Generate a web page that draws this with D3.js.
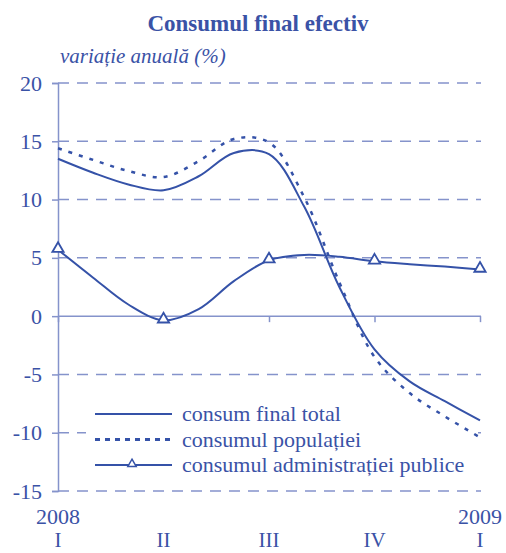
<!DOCTYPE html>
<html>
<head>
<meta charset="utf-8">
<script src="https://cdn.jsdelivr.net/npm/d3@7"></script>
<style>
  body { margin: 0; background: #fff; }
  text { font-family: "Liberation Serif", "Times New Roman", serif; fill: #3a52a6; }
</style>
</head>
<body>
<div id="chart"></div>
<script>
(function() {
  var width = 506;
  var height = 553;

  // monthly steps, 0 = I 2008 ... 12 = I 2009
  var months = [0, 1, 2, 3, 4, 5, 6, 7, 8, 9, 10, 11, 12];
  var consumTotal = [13.5, 12.3, 11.3, 10.8, 12.0, 14.0, 13.9, 9.4, 2.5, -2.85, -5.6, -7.3, -8.95];
  var consumPopulatie = [14.4, 13.4, 12.45, 11.93, 13.3, 15.2, 14.9, 10.2, 2.9, -3.5, -6.6, -8.6, -10.4];
  var consumAdmin = [5.7, 3.3, 1.0, -0.35, 0.6, 3.0, 4.8, 5.25, 5.1, 4.7, 4.45, 4.25, 4.0];

  var quarterIdx = [0, 3, 6, 9, 12];
  var quarterLabels = ['I', 'II', 'III', 'IV', 'I'];
  var yearIdx = [0, 12];
  var yearLabels = ['2008', '2009'];
  var yTicks = [-15, -10, -5, 0, 5, 10, 15, 20];
  var legendLabels = ['consum final total', 'consumul populației', 'consumul administrației publice'];

  var blue = '#3552a8';
  var gridBlue = '#8593cb';

  var svg = d3.select('#chart')
    .append('svg')
    .attr('width', width)
    .attr('height', height);

  var x = d3.scaleLinear().domain([0, 12]).range([58, 480]);
  var y = d3.scaleLinear().domain([-15, 20]).range([491, 83]);

  // title
  svg.append('text')
    .attr('x', 258)
    .attr('y', 31)
    .attr('text-anchor', 'middle')
    .style('font-size', '23px')
    .style('font-weight', 'bold')
    .text('Consumul final efectiv');

  svg.append('text')
    .attr('x', 60)
    .attr('y', 63)
    .style('font-size', '21px')
    .style('font-style', 'italic')
    .text('variație anuală (%)');

  // grid lines (dashed, except zero)
  svg.selectAll('.grid')
    .data(yTicks.filter(function(d) { return d != 0; }))
    .enter()
    .append('line')
    .attr('class', 'grid')
    .attr('x1', 58)
    .attr('x2', 481)
    .attr('y1', function(d) { return y(d); })
    .attr('y2', function(d) { return y(d); })
    .attr('stroke', gridBlue)
    .attr('stroke-width', 1.5)
    .attr('stroke-dasharray', '11,8');

  // y axis
  var yAxis = svg.append('g')
    .attr('transform', 'translate(' + x(0) + ',0)')
    .call(d3.axisLeft(y).tickValues(yTicks).tickSize(6).tickPadding(10)
      .tickFormat(function(d) { return String(d); }));
  yAxis.attr('font-family', null);
  yAxis.select('.domain').attr('stroke', gridBlue).attr('stroke-width', 1.5);
  yAxis.selectAll('.tick line').attr('stroke', gridBlue).attr('stroke-width', 1.5);
  yAxis.selectAll('.tick text')
    .attr('fill', blue)
    .style('font-size', '22px');

  // x axis on zero line
  var xAxis = svg.append('g')
    .attr('transform', 'translate(0,' + y(0) + ')')
    .call(d3.axisBottom(x).tickValues(quarterIdx).tickSize(6).tickFormat(''));
  xAxis.select('.domain').attr('stroke', gridBlue).attr('stroke-width', 1.5).attr('d', 'M' + x(0) + ',0H' + (x(12) + 1));
  xAxis.selectAll('.tick line').attr('stroke', gridBlue).attr('stroke-width', 1.5);

  // category labels under the plot
  svg.selectAll('.year')
    .data(yearIdx)
    .enter()
    .append('text')
    .attr('class', 'year')
    .attr('x', function(d) { return x(d); })
    .attr('y', 524)
    .attr('text-anchor', 'middle')
    .style('font-size', '22px')
    .text(function(d, i) { return yearLabels[i]; });

  svg.selectAll('.quarter')
    .data(quarterIdx)
    .enter()
    .append('text')
    .attr('class', 'quarter')
    .attr('x', function(d) { return x(d); })
    .attr('y', 547)
    .attr('text-anchor', 'middle')
    .style('font-size', '21px')
    .text(function(d, i) { return quarterLabels[i]; });

  // legend background hides the -10 grid line
  svg.append('rect')
    .attr('x', 86)
    .attr('y', 400)
    .attr('width', 392)
    .attr('height', 78)
    .attr('fill', '#fff');

  var line = d3.line()
    .x(function(d) { return x(d[0]); })
    .y(function(d) { return y(d[1]); })
    .curve(d3.curveCatmullRom.alpha(0.5));

  function pairs(vals) {
    return months.map(function(m, i) { return [m, vals[i]]; });
  }

  svg.append('path')
    .datum(pairs(consumAdmin))
    .attr('d', line)
    .attr('fill', 'none')
    .attr('stroke', blue)
    .attr('stroke-width', 2);

  svg.append('path')
    .datum(pairs(consumTotal))
    .attr('d', line)
    .attr('fill', 'none')
    .attr('stroke', blue)
    .attr('stroke-width', 2);

  svg.append('path')
    .datum(pairs(consumPopulatie))
    .attr('d', line)
    .attr('fill', 'none')
    .attr('stroke', blue)
    .attr('stroke-width', 2.5)
    .attr('stroke-dasharray', '4,7');

  var triangle = d3.symbol().type(d3.symbolTriangle).size(55);

  svg.selectAll('.marker')
    .data(quarterIdx)
    .enter()
    .append('path')
    .attr('class', 'marker')
    .attr('d', triangle)
    .attr('transform', function(d) { return 'translate(' + x(d) + ',' + (y(consumAdmin[d]) - 1) + ')'; })
    .attr('fill', '#fff')
    .attr('stroke', blue)
    .attr('stroke-width', 1.8);

  // legend
  var legend = svg.selectAll('.legend')
    .data(legendLabels)
    .enter()
    .append('g')
    .attr('class', 'legend')
    .attr('transform', function(d, i) { return 'translate(95,' + (414 + i * 25.5) + ')'; });

  legend.append('line')
    .attr('x1', 0)
    .attr('x2', 77)
    .attr('stroke', blue)
    .attr('stroke-width', function(d, i) { return i == 1 ? 3 : 2; })
    .attr('stroke-dasharray', function(d, i) { return i == 1 ? '5,5' : null; });

  legend.filter(function(d, i) { return i == 2; })
    .append('path')
    .attr('d', d3.symbol().type(d3.symbolTriangle).size(30))
    .attr('transform', 'translate(37,-1)')
    .attr('fill', '#fff')
    .attr('stroke', blue)
    .attr('stroke-width', 1.5);

  legend.append('text')
    .attr('x', 87)
    .attr('y', 7)
    .style('font-size', '22px')
    .text(function(d) { return d; });
})();
</script>
</body>
</html>
